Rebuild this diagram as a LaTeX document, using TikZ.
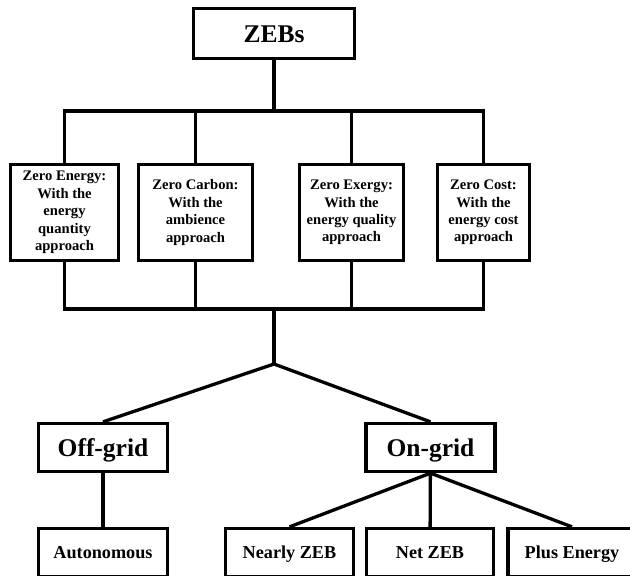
\documentclass[tikz,border=0pt]{standalone}
\usepackage{fontspec}
\setmainfont{Liberation Serif}
\usepackage{tikz}

\begin{document}
\begin{tikzpicture}[
  x=1pt, y=-1pt,
  line width=3.3pt,
  big/.style={draw, inner sep=0pt, minimum width=129pt, minimum height=48pt, text height=17pt, text depth=0pt, font=\fontsize{25.5}{30}\selectfont\bfseries},
  kind/.style={draw, inner sep=0pt, align=center, minimum height=96pt, font=\fontsize{14.6}{17.4}\selectfont\bfseries},
  leaf/.style={draw, inner sep=0pt, minimum width=128pt, minimum height=48pt, text height=12pt, text depth=0pt, font=\fontsize{18.2}{22}\selectfont\bfseries},
]
\useasboundingbox (0,0) rectangle (630,576);
% top
\node[big, minimum width=161pt, minimum height=50pt] (zebs) at (274,33.5) {ZEBs};
\coordinate (topbus) at (274,111);
% four approaches
\node[kind, minimum width=108pt] (energy) at (64.5,212.5) {Zero Energy:\\With the\\energy\\quantity\\approach};
\node[kind, minimum width=114pt] (carbon) at (195.5,212.5) {Zero Carbon:\\With the\\ambience\\approach};
\node[kind, minimum width=104pt] (exergy) at (351.5,212.5) {Zero Exergy:\\With the\\energy quality\\approach};
\node[kind, minimum width=92pt] (cost) at (483.5,212.5) {Zero Cost:\\With the\\energy cost\\approach};
\coordinate (lowbus) at (274,309);
\coordinate (split) at (274,364);
% grid connection
\node[big] (offgrid) at (103,447.5) {Off-grid};
\node[big] (ongrid) at (430.5,447.5) {On-grid};
% leaves
\node[leaf, minimum width=129pt] (auto) at (103,552.5) {Autonomous};
\node[leaf] (nearly) at (289.5,552.5) {Nearly ZEB};
\node[leaf, minimum width=127pt] (net) at (430,552.5) {Net ZEB};
\node[leaf] (plus) at (572,552.5) {Plus Energy};

\draw (zebs.south) -- (topbus);
\draw (energy.north) -- (energy.north |- topbus) -- (cost.north |- topbus) -- (cost.north);
\draw (carbon.north) -- (carbon.north |- topbus);
\draw (exergy.north) -- (exergy.north |- topbus);
\draw (energy.south) -- (energy.south |- lowbus) -- (cost.south |- lowbus) -- (cost.south);
\draw (carbon.south) -- (carbon.south |- lowbus);
\draw (exergy.south) -- (exergy.south |- lowbus);
\draw (lowbus) -- (split);
\draw (offgrid.north) -- (split) -- (ongrid.north);
\draw (offgrid) -- (auto);
\draw (ongrid.south) -- (nearly.north);
\draw (ongrid) -- (net);
\draw (ongrid.south) -- (plus.north);
\end{tikzpicture}
\end{document}
